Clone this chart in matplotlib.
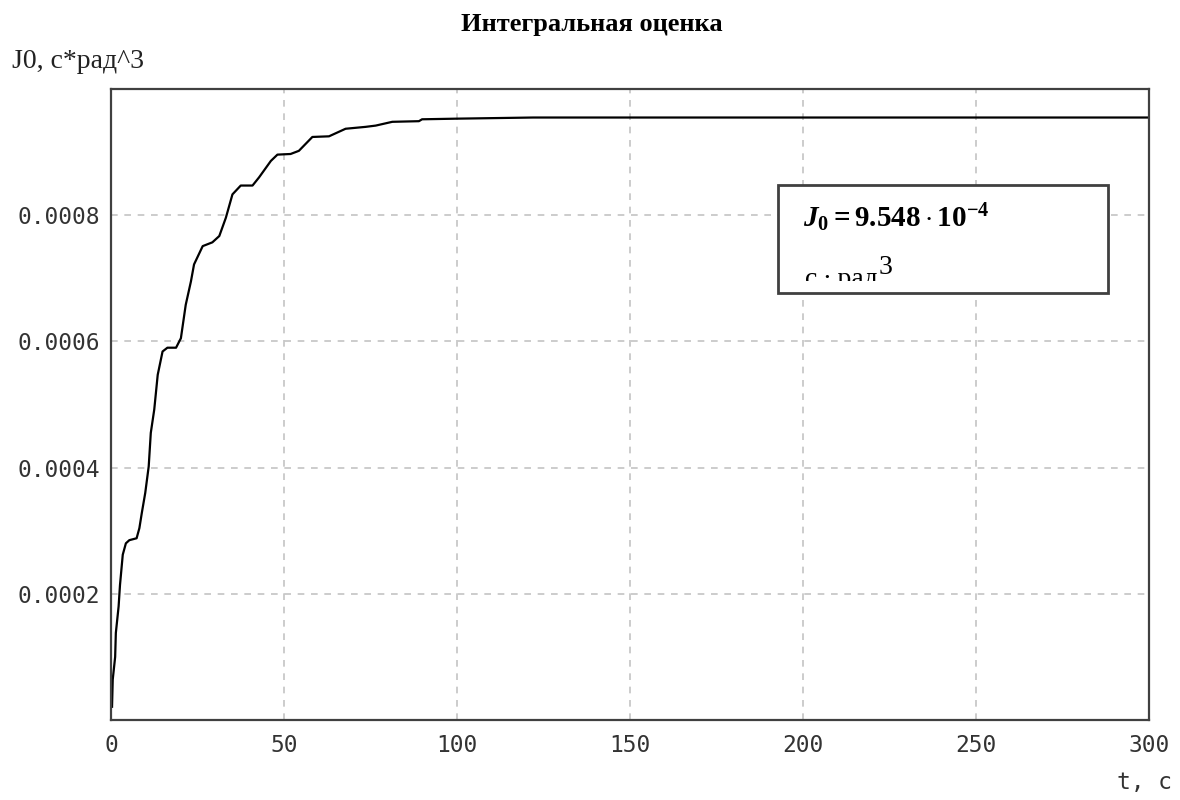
import matplotlib
matplotlib.use("Agg")
import matplotlib.pyplot as plt
from matplotlib.patches import Rectangle
from matplotlib.transforms import Bbox, TransformedBbox

# J0(t)
t = [0.3, 0.5, 1.2, 1.4, 2.2, 2.6, 3.4, 4.3, 5.3, 7.4, 8.2, 8.9, 9.9, 10.9,
     11.5, 12.5, 13.5, 14.9, 16.3, 18.8, 20.2, 21.6, 23.1, 24.0, 26.5, 29.3,
     31.3, 33.2, 35.1, 37.5, 40.9, 42.8, 46.2, 48.1, 51.9, 54.3, 58.2, 63.0,
     67.8, 73.6, 76.5, 81.3, 89.0, 89.9, 100.0, 122.0, 300.0]
J0 = [0.000021, 0.000064, 0.000100, 0.000138, 0.000180, 0.000214, 0.000262,
      0.000280, 0.000285, 0.000288, 0.000304, 0.000328, 0.000360, 0.000402,
      0.000455, 0.000492, 0.000547, 0.000584, 0.000590, 0.000590, 0.000605,
      0.000658, 0.000695, 0.000722, 0.000751, 0.000757, 0.000767, 0.000796,
      0.000833, 0.000847, 0.000847, 0.000860, 0.000886, 0.000896, 0.000897,
      0.000902, 0.000924, 0.000925, 0.000937, 0.000940, 0.000942, 0.000948,
      0.000949, 0.000952, 0.000953, 0.0009548, 0.0009548]

xticks = [0, 50, 100, 150, 200, 250, 300]
yticks = [0.0002, 0.0004, 0.0006, 0.0008]
ytick_labels = ["0.0002", "0.0004", "0.0006", "0.0008"]

plt.rcParams["mathtext.fontset"] = "custom"
plt.rcParams["mathtext.rm"] = "Liberation Serif:bold"
plt.rcParams["mathtext.bf"] = "Liberation Serif:bold"
plt.rcParams["mathtext.it"] = "Liberation Serif:italic:bold"

fig = plt.figure(figsize=(11.8, 8), dpi=100)
ax = fig.add_axes([111/1180, 80/800, 1038/1180, 631/800])

ax.plot(t, J0, color="black", lw=1.6)

ax.set_xlim(0, 300)
ax.set_ylim(0, 0.001)
ax.set_xticks(xticks)
ax.set_xticklabels([str(x) for x in xticks])
ax.set_yticks(yticks)
ax.set_yticklabels(ytick_labels)
ax.tick_params(length=0, labelsize=16.5, colors="#333333")
ax.tick_params(axis="x", pad=10)
ax.tick_params(axis="y", pad=8)
for lab in ax.get_xticklabels() + ax.get_yticklabels():
    lab.set_family("DejaVu Sans Mono")

ax.grid(True, color="#c4c4c4", linestyle=(0, (4, 4)), lw=1.2)
for s in ax.spines.values():
    s.set_color("#404040")
    s.set_linewidth(1.6)

fig.text(592/1180, 1 - 25/800, "Интегральная оценка", ha="center", va="center",
         fontsize=19, fontweight="bold", family="Liberation Serif")
fig.text(12/1180, 1 - 62/800, "J0, c*рад^3", ha="left", va="center",
         fontsize=20, family="Liberation Serif", color="#222222")
fig.text(1172/1180, 1 - 783/800, "t, c", ha="right", va="center",
         fontsize=16.5, family="DejaVu Sans Mono", color="#333333")

# annotation box
bx0, bx1 = 0.6426, 0.9605
by0, by1 = 0.6767, 0.8479
ax.add_patch(Rectangle((bx0, by0), bx1 - bx0, by1 - by0, transform=ax.transAxes,
                       facecolor="white", edgecolor="#404040", lw=2, zorder=5))
ax.text(0.6667, 0.7813, r"$J_0 = 9.548\cdot10^{-4}$", transform=ax.transAxes,
        fontsize=21, ha="left", va="baseline", zorder=6)
clip = TransformedBbox(Bbox([[bx0, 0.6957], [bx1, by1]]), ax.transAxes)
u1 = ax.text(0.6686, 0.6878, "с\u2009·\u2009рад", transform=ax.transAxes,
             fontsize=20, family="Liberation Serif", ha="left", va="baseline",
             zorder=6, clip_on=True)
u1.set_clip_box(clip)

# put the superscript right after the unit text
fig.canvas.draw()
ext = u1.get_window_extent()
x_end = ax.transAxes.inverted().transform((ext.x1, ext.y0))[0]
u2 = ax.text(x_end + 0.001, 0.7068, "3", transform=ax.transAxes, fontsize=20,
             family="Liberation Serif", ha="left", va="baseline", zorder=6,
             clip_on=True)
u2.set_clip_box(clip)

fig.savefig("out.png", dpi=100)
